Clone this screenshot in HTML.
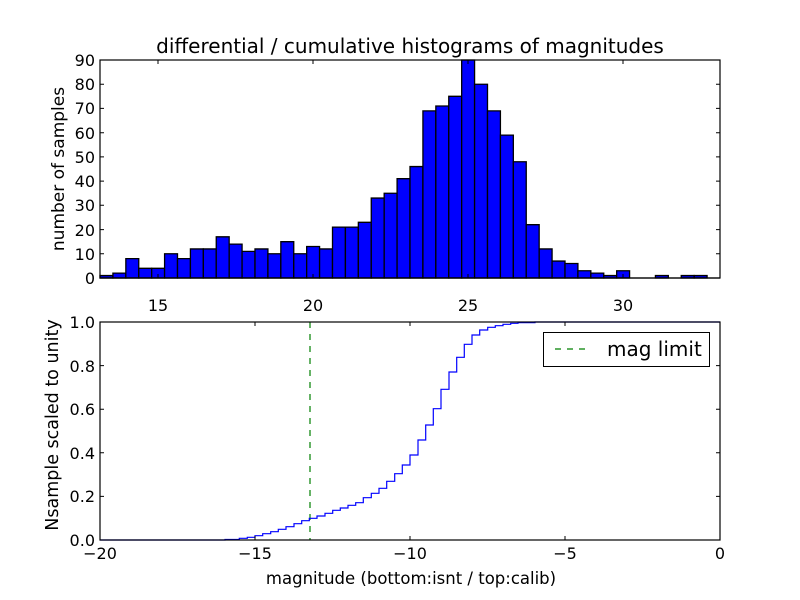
<!DOCTYPE html>
<html><head><style>body{margin:0;background:#fff}svg{display:block}text{font-family:"DejaVu Sans","Liberation Sans",sans-serif;fill:#000}</style></head><body>
<svg width="800" height="600" xmlns="http://www.w3.org/2000/svg">
<rect width="800" height="600" fill="#fff"/>
<text x="410" y="53" font-size="20" text-anchor="middle">differential / cumulative histograms of magnitudes</text>
<g transform="translate(100,278) scale(12.9167,-2.4222)" fill="#0000ff" stroke="#000" stroke-width="1.3">
<rect x="0" width="1" height="1" vector-effect="non-scaling-stroke"/>
<rect x="1" width="1" height="2" vector-effect="non-scaling-stroke"/>
<rect x="2" width="1" height="8" vector-effect="non-scaling-stroke"/>
<rect x="3" width="1" height="4" vector-effect="non-scaling-stroke"/>
<rect x="4" width="1" height="4" vector-effect="non-scaling-stroke"/>
<rect x="5" width="1" height="10" vector-effect="non-scaling-stroke"/>
<rect x="6" width="1" height="8" vector-effect="non-scaling-stroke"/>
<rect x="7" width="1" height="12" vector-effect="non-scaling-stroke"/>
<rect x="8" width="1" height="12" vector-effect="non-scaling-stroke"/>
<rect x="9" width="1" height="17" vector-effect="non-scaling-stroke"/>
<rect x="10" width="1" height="14" vector-effect="non-scaling-stroke"/>
<rect x="11" width="1" height="11" vector-effect="non-scaling-stroke"/>
<rect x="12" width="1" height="12" vector-effect="non-scaling-stroke"/>
<rect x="13" width="1" height="10" vector-effect="non-scaling-stroke"/>
<rect x="14" width="1" height="15" vector-effect="non-scaling-stroke"/>
<rect x="15" width="1" height="10" vector-effect="non-scaling-stroke"/>
<rect x="16" width="1" height="13" vector-effect="non-scaling-stroke"/>
<rect x="17" width="1" height="12" vector-effect="non-scaling-stroke"/>
<rect x="18" width="1" height="21" vector-effect="non-scaling-stroke"/>
<rect x="19" width="1" height="21" vector-effect="non-scaling-stroke"/>
<rect x="20" width="1" height="23" vector-effect="non-scaling-stroke"/>
<rect x="21" width="1" height="33" vector-effect="non-scaling-stroke"/>
<rect x="22" width="1" height="35" vector-effect="non-scaling-stroke"/>
<rect x="23" width="1" height="41" vector-effect="non-scaling-stroke"/>
<rect x="24" width="1" height="46" vector-effect="non-scaling-stroke"/>
<rect x="25" width="1" height="69" vector-effect="non-scaling-stroke"/>
<rect x="26" width="1" height="71" vector-effect="non-scaling-stroke"/>
<rect x="27" width="1" height="75" vector-effect="non-scaling-stroke"/>
<rect x="28" width="1" height="90" vector-effect="non-scaling-stroke"/>
<rect x="29" width="1" height="80" vector-effect="non-scaling-stroke"/>
<rect x="30" width="1" height="69" vector-effect="non-scaling-stroke"/>
<rect x="31" width="1" height="59" vector-effect="non-scaling-stroke"/>
<rect x="32" width="1" height="48" vector-effect="non-scaling-stroke"/>
<rect x="33" width="1" height="22" vector-effect="non-scaling-stroke"/>
<rect x="34" width="1" height="12" vector-effect="non-scaling-stroke"/>
<rect x="35" width="1" height="7" vector-effect="non-scaling-stroke"/>
<rect x="36" width="1" height="6" vector-effect="non-scaling-stroke"/>
<rect x="37" width="1" height="3" vector-effect="non-scaling-stroke"/>
<rect x="38" width="1" height="2" vector-effect="non-scaling-stroke"/>
<rect x="39" width="1" height="1" vector-effect="non-scaling-stroke"/>
<rect x="40" width="1" height="3" vector-effect="non-scaling-stroke"/>
<rect x="43" width="1" height="1" vector-effect="non-scaling-stroke"/>
<rect x="45" width="1" height="1" vector-effect="non-scaling-stroke"/>
<rect x="46" width="1" height="1" vector-effect="non-scaling-stroke"/>
</g>
<line x1="100" y1="278" x2="720" y2="278" stroke="#000" stroke-width="1.3"/>
<rect x="100" y="60" width="620" height="218" fill="none" stroke="#000" stroke-width="1.2"/>
<g stroke="#000" stroke-width="1">
<path d="M158,60v4M313,60v4M468,60v4M623,60v4M158,278v-4M313,278v-4M468,278v-4M623,278v-4"/>
<path d="M100,253.8h4M100,229.6h4M100,205.3h4M100,181.1h4M100,156.9h4M100,132.7h4M100,108.4h4M100,84.2h4M720,253.8h-4M720,229.6h-4M720,205.3h-4M720,181.1h-4M720,156.9h-4M720,132.7h-4M720,108.4h-4M720,84.2h-4"/>
</g>
<g font-size="16" text-anchor="end">
<text x="95" y="284">0</text><text x="95" y="260">10</text><text x="95" y="236">20</text><text x="95" y="211">30</text><text x="95" y="187">40</text><text x="95" y="163">50</text><text x="95" y="139">60</text><text x="95" y="114">70</text><text x="95" y="90">80</text><text x="95" y="66">90</text>
</g>
<g font-size="16" text-anchor="middle">
<text x="158" y="311">15</text><text x="313" y="311">20</text><text x="468" y="311">25</text><text x="623" y="311">30</text>
</g>
<text transform="translate(64,169) rotate(-90)" font-size="17" text-anchor="middle">number of samples</text>

<line x1="310" y1="322" x2="310" y2="540" stroke="#008000" stroke-width="1.2" stroke-dasharray="6,6"/>
<path fill="none" stroke="#0000ff" stroke-width="1.2" d="M100,540H225V539.5H239.3V538.3H247.3V537.3H255V535.7H262.7V533.7H270.7V531.7H278.3V529.3H286V526.7H294V523.7H301.7V520.7H309.3V518.3H317V516H325V513.3H332.7V510.3H340.3V508H348V505.3H355.7V502.7H363.3V497.7H371.3V493.3H379V488.3H386.7V481.3H394.7V473.7H402.3V465H410V455H418V440H425.7V425H433.3V408.7H441V389.3H449V372H456.7V357.3H464.3V344.3H472V335H479.7V330H487.7V327.3H495.3V325.7H503V324.3H510.7V323.3H518V322.6H535V322H720"/>
<rect x="100" y="322" width="620" height="218" fill="none" stroke="#000" stroke-width="1.2"/>
<g stroke="#000" stroke-width="1">
<path d="M255,322v4M410,322v4M565,322v4M255,540v-4M410,540v-4M565,540v-4"/>
<path d="M100,496.4h4M100,452.8h4M100,409.2h4M100,365.6h4M720,496.4h-4M720,452.8h-4M720,409.2h-4M720,365.6h-4"/>
</g>
<g font-size="16" text-anchor="end">
<text x="95" y="546">0.0</text><text x="95" y="502">0.2</text><text x="95" y="459">0.4</text><text x="95" y="415">0.6</text><text x="95" y="372">0.8</text><text x="95" y="328">1.0</text>
</g>
<g font-size="16" text-anchor="middle">
<text x="100" y="559">−20</text><text x="255" y="559">−15</text><text x="410" y="559">−10</text><text x="565" y="559">−5</text><text x="720" y="559">0</text>
</g>
<text x="411" y="584" font-size="16.5" text-anchor="middle">magnitude (bottom:isnt / top:calib)</text>
<text transform="translate(58,425) rotate(-90)" font-size="17.5" text-anchor="middle">Nsample scaled to unity</text>
<rect x="543.5" y="332.5" width="166" height="34" fill="#fff" stroke="#000" stroke-width="1"/>
<line x1="555" y1="349" x2="585" y2="349" stroke="#008000" stroke-width="1.2" stroke-dasharray="6,6"/>
<text x="607" y="356" font-size="20">mag limit</text>
</svg>
</body></html>
